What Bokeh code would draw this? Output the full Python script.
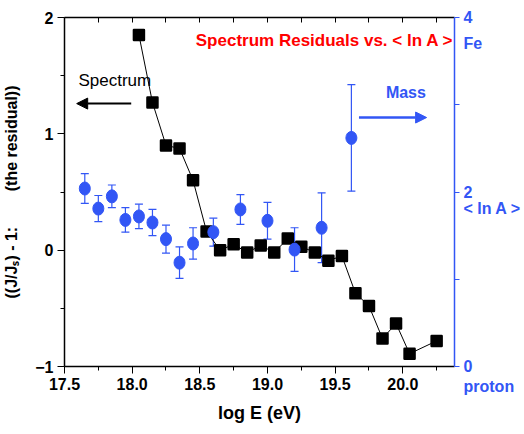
from bokeh.plotting import figure
from bokeh.models import (ColumnDataSource, Range1d, LinearAxis, FixedTicker, Whisker,
                          TeeHead, Arrow, NormalHead, Label)
from bokeh.embed import file_html
from bokeh.resources import INLINE

# ---------------- data ----------------
spec_x = [18.05, 18.15, 18.25, 18.35, 18.45, 18.55, 18.65, 18.75, 18.85, 18.95, 19.05,
          19.15, 19.25, 19.35, 19.45, 19.55, 19.65, 19.75, 19.85, 19.95, 20.05, 20.25]
spec_resid = [1.85, 1.27, 0.90, 0.875, 0.60, 0.16, 0.0, 0.05, -0.02, 0.04, -0.02,
              0.10, 0.03, -0.02, -0.09, -0.05, -0.37, -0.48, -0.76, -0.63, -0.89, -0.78]

mass_x = [17.65, 17.75, 17.85, 17.95, 18.05, 18.15, 18.25, 18.35, 18.45,
          18.6, 18.8, 19.0, 19.2, 19.4, 19.62]
mass_lnA = [2.04, 1.81, 1.95, 1.68, 1.72, 1.65, 1.46, 1.19, 1.41,
            1.54, 1.80, 1.67, 1.34, 1.59, 2.62]
mass_err = [0.17, 0.15, 0.13, 0.14, 0.14, 0.15, 0.16, 0.18, 0.18,
            0.16, 0.17, 0.21, 0.25, 0.40, 0.61]

x_ticks = [17.5, 18.0, 18.5, 19.0, 19.5, 20.0]
x_minor = [17.75, 18.25, 18.75, 19.25, 19.75, 20.25]
top_ticks = [17.5, 17.75, 18.0, 18.25, 18.5, 18.75, 19.0, 19.25, 19.5, 19.75, 20.0, 20.25]
y_ticks = [-1, 0, 1, 2]
y_minor = [-0.5, 0.5, 1.5]
# right axis: numbered ticks plus the names placed beside the axis
r_tick_marks = [0, 1, 2, 3, 4]
r_labels = {0: "\u00a0\n0\nproton", 2: "2", 4: "4", 3.70: "Fe", 1.81: "< ln A >"}

title_text = "Spectrum Residuals vs. < ln A >"
left_label = "((J/J\u209b) - 1:\u00a0\u00a0\u00a0\u00a0\u00a0\u00a0\u00a0\u00a0(the residual))"
bottom_label = "log E (eV)"

BLUE = "#3256f5"
FONT = "Liberation Sans"

# ---------------- figure ----------------
p = figure(width=524, height=434, output_backend="svg", toolbar_location=None,
           x_range=Range1d(17.5, 20.382), y_range=Range1d(-1, 2),
           min_border_left=64, min_border_right=68, min_border_top=17, min_border_bottom=68)
p.extra_y_ranges = {"lnA": Range1d(0, 4)}
p.outline_line_color = None
p.xgrid.visible = False
p.ygrid.visible = False
p.background_fill_color = "white"
p.border_fill_color = "white"

# bottom axis
xa = p.xaxis[0]
xa.ticker = FixedTicker(ticks=x_ticks, minor_ticks=x_minor)
xa.major_label_overrides = {t: f"{t:.1f}" for t in x_ticks}
xa.axis_label = bottom_label
xa.axis_label_text_font = FONT
xa.axis_label_text_font_style = "bold"
xa.axis_label_text_font_size = "18px"
xa.axis_label_text_color = "black"
xa.axis_label_standoff = 10
xa.major_label_text_font = FONT
xa.major_label_text_font_style = "bold"
xa.major_label_text_font_size = "16px"
xa.major_label_text_color = "black"
xa.major_label_standoff = 4
xa.axis_line_color = "black"
xa.axis_line_width = 1.5
xa.major_tick_out = 7
xa.major_tick_in = 0
xa.minor_tick_out = 4
xa.minor_tick_in = 0

# left axis
ya = p.yaxis[0]
ya.ticker = FixedTicker(ticks=y_ticks, minor_ticks=y_minor)
ya.axis_label = left_label
ya.axis_label_text_font = FONT
ya.axis_label_text_font_style = "bold"
ya.axis_label_text_font_size = "16px"
ya.axis_label_text_color = "black"
ya.axis_label_standoff = 12
ya.major_label_text_font = FONT
ya.major_label_text_font_style = "bold"
ya.major_label_text_font_size = "16px"
ya.major_label_text_color = "black"
ya.major_label_standoff = 4
ya.axis_line_color = "black"
ya.axis_line_width = 1.5
ya.major_tick_out = 7
ya.major_tick_in = 0
ya.minor_tick_out = 4
ya.minor_tick_in = 0

# top axis (ticks only)
ta = LinearAxis(ticker=FixedTicker(ticks=top_ticks, minor_ticks=[]),
                major_label_text_color=None, major_label_standoff=0,
                major_tick_in=5, major_tick_out=0, minor_tick_in=0, minor_tick_out=0,
                axis_line_color="black", axis_line_width=1.5)
p.add_layout(ta, "above")

# right axis (<ln A>): tick marks drawn as minor ticks, texts as major labels
ra = LinearAxis(y_range_name="lnA",
                ticker=FixedTicker(ticks=sorted(r_labels.keys()), minor_ticks=r_tick_marks),
                major_label_overrides=r_labels,
                axis_line_color=BLUE, axis_line_width=1.5,
                major_tick_line_color=None, minor_tick_line_color=BLUE,
                major_tick_out=0, major_tick_in=0, minor_tick_out=5, minor_tick_in=0,
                major_label_text_color=BLUE, major_label_text_font=FONT,
                major_label_text_font_style="bold", major_label_text_font_size="16px",
                major_label_standoff=4)
p.add_layout(ra, "right")

# ---------------- data glyphs ----------------
spec_src = ColumnDataSource(dict(x=spec_x, y=spec_resid))
p.line("x", "y", source=spec_src, line_color="black", line_width=1)
p.scatter("x", "y", source=spec_src, marker="square", size=10, fill_color="black",
          line_color="black", line_width=2.5, line_join="round")

mass_src = ColumnDataSource(dict(
    x=mass_x, y=mass_lnA,
    upper=[v + e for v, e in zip(mass_lnA, mass_err)],
    lower=[v - e for v, e in zip(mass_lnA, mass_err)]))
p.add_layout(Whisker(source=mass_src, base="x", upper="upper", lower="lower",
                     y_range_name="lnA", line_color=BLUE, line_width=1.2,
                     upper_head=TeeHead(size=8, line_color=BLUE, line_width=1.2),
                     lower_head=TeeHead(size=8, line_color=BLUE, line_width=1.2),
                     level="underlay"))
p.ellipse("x", "y", source=mass_src, width=11, height=13, width_units="screen",
          height_units="screen", fill_color=BLUE, line_color=BLUE, y_range_name="lnA")

# ---------------- annotations ----------------
p.add_layout(Label(x=17.603, y=1.458, text="Spectrum", text_font=FONT, text_font_size="17px",
                   text_color="black", text_baseline="middle", text_align="left"))
p.add_layout(Arrow(x_start=17.993, y_start=1.26, x_end=17.59, y_end=1.26,
                   line_color="black", line_width=2,
                   end=NormalHead(size=11, fill_color="black", line_color="black")))
p.add_layout(Label(x=19.875, y=1.355, text="Mass", text_font=FONT, text_font_size="16px",
                   text_font_style="bold", text_color=BLUE, text_baseline="middle",
                   text_align="left"))
p.add_layout(Arrow(x_start=19.676, y_start=1.14, x_end=20.176, y_end=1.14,
                   line_color=BLUE, line_width=2.5,
                   end=NormalHead(size=11, fill_color=BLUE, line_color=BLUE)))
p.add_layout(Label(x=18.47, y=1.802, text=title_text, text_font=FONT, text_font_size="17px",
                   text_font_style="bold", text_color="red", text_baseline="middle",
                   text_align="left"))

open("out.html", "w").write(file_html(p, INLINE))
